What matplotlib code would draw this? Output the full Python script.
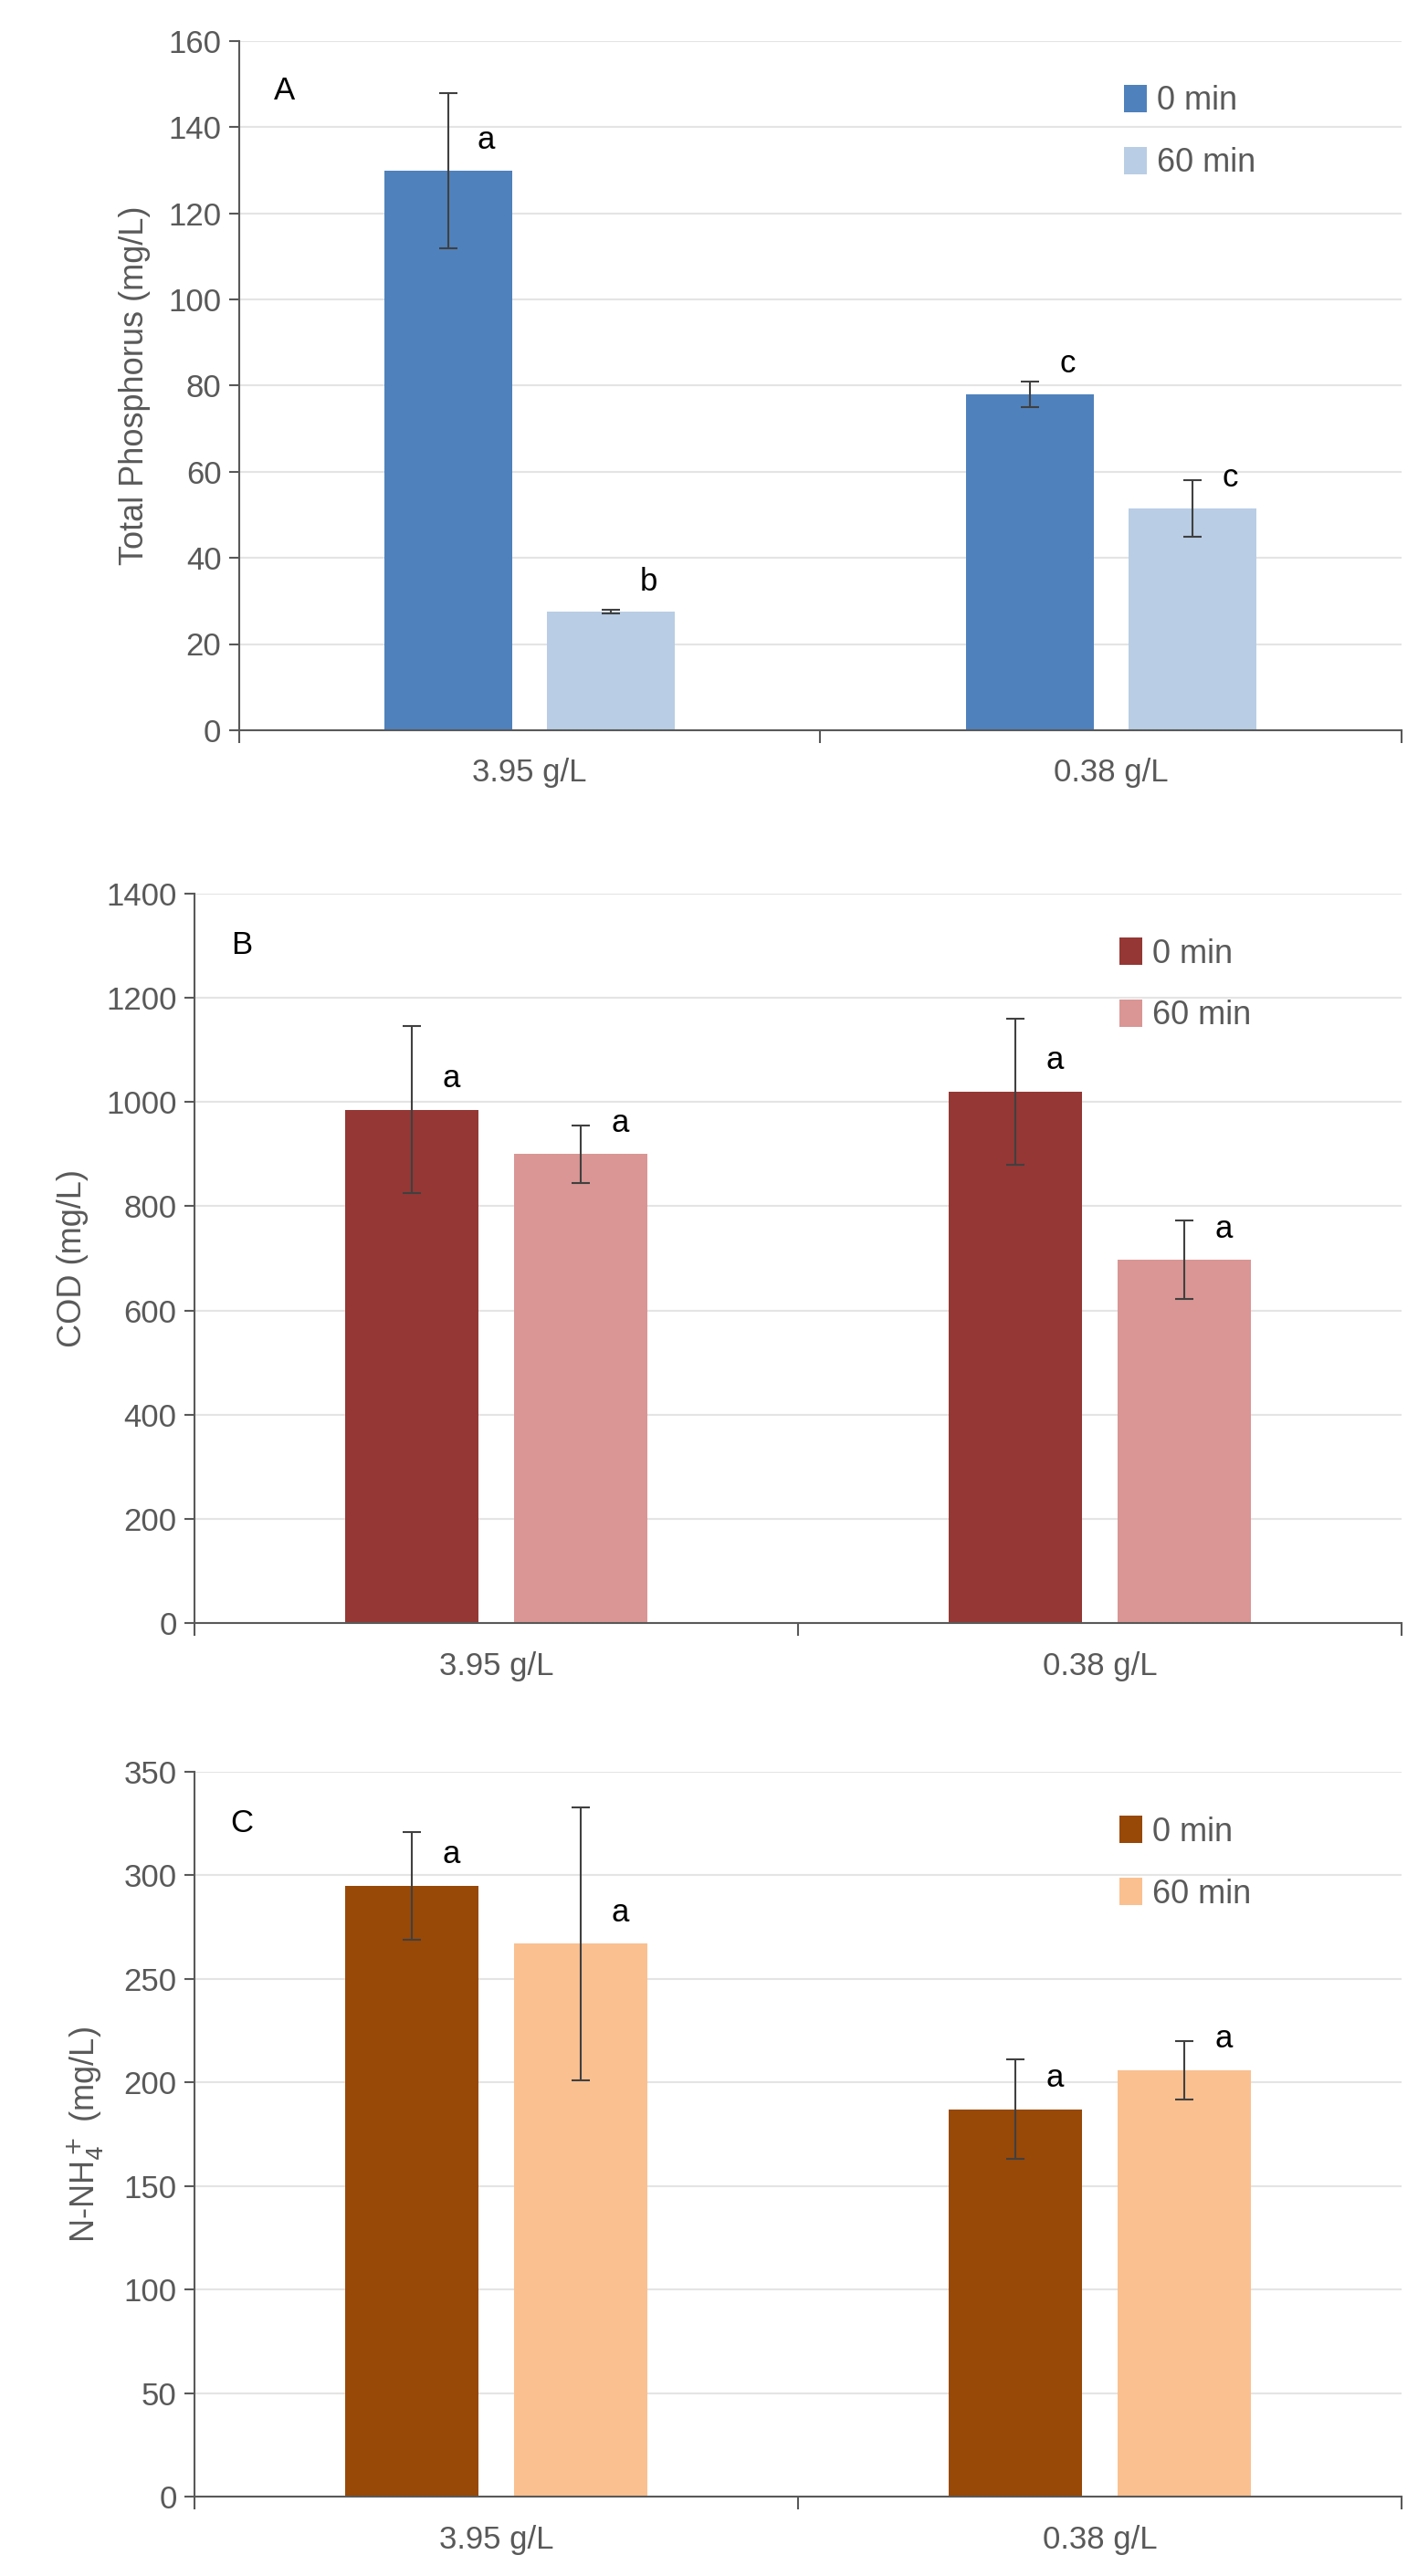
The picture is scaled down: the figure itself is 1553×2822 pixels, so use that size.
import matplotlib
matplotlib.use("Agg")
import matplotlib.pyplot as plt
import numpy as np

plt.rcParams['font.family'] = 'Liberation Sans'

categories = ["3.95 g/L", "0.38 g/L"]
series = ["0 min", "60 min"]

tp_0 = [130, 78]; tp_0_err = [18, 3]
tp_60 = [27.5, 51.5]; tp_60_err = [0.5, 6.5]
tp_letters = [["a", "c"], ["b", "c"]]

cod_0 = [985, 1020]; cod_0_err = [160, 140]
cod_60 = [900, 697]; cod_60_err = [55, 75]
cod_letters = [["a", "a"], ["a", "a"]]

nh_0 = [295, 187]; nh_0_err = [26, 24]
nh_60 = [267, 206]; nh_60_err = [66, 14]
nh_letters = [["a", "a"], ["a", "a"]]

W, H = 860, 1563
fig = plt.figure(figsize=(15.53, 28.22), dpi=100)
gray = "#595959"
fs = 25

panels = [
    dict(rect=[145, 25, 850, 443], v0=tp_0, e0=tp_0_err, v1=tp_60, e1=tp_60_err, let=tp_letters,
         ymax=160, step=20, c=("#4F81BD", "#B9CDE5"), ylabel="Total Phosphorus (mg/L)", tag="A"),
    dict(rect=[118, 542, 850, 985], v0=cod_0, e0=cod_0_err, v1=cod_60, e1=cod_60_err, let=cod_letters,
         ymax=1400, step=200, c=("#953735", "#D99694"), ylabel="COD (mg/L)", tag="B"),
    dict(rect=[118, 1075, 850, 1515], v0=nh_0, e0=nh_0_err, v1=nh_60, e1=nh_60_err, let=nh_letters,
         ymax=350, step=50, c=("#984807", "#FAC090"), ylabel="N-NH$_4^+$ (mg/L)", tag="C"),
]

x = np.arange(len(categories))
off, bw = 0.14, 0.22
for p in panels:
    l, t, r, b = p["rect"]
    ax = fig.add_axes([l / W, 1 - b / H, (r - l) / W, (b - t) / H])
    ax.bar(x - off, p["v0"], bw, color=p["c"][0], label=series[0], zorder=2)
    ax.bar(x + off, p["v1"], bw, color=p["c"][1], label=series[1], zorder=2)
    for xs, v, e in ((x - off, p["v0"], p["e0"]), (x + off, p["v1"], p["e1"])):
        ax.errorbar(xs, v, yerr=e, fmt="none", ecolor="#404040", elinewidth=1.5, capsize=7, capthick=1.5, zorder=3)
    for k, (xs, v) in enumerate(((x - off, p["v0"]), (x + off, p["v1"]))):
        for i in range(len(x)):
            ax.text(xs[i] + 0.065, v[i] + p["ymax"] * 0.022, p["let"][k][i],
                    ha="center", va="bottom", fontsize=fs, color="black", zorder=4)
    ax.set_xlim(-0.5, 1.5)
    ax.set_ylim(0, p["ymax"])
    ax.set_yticks(np.arange(0, p["ymax"] + 1, p["step"]))
    ax.yaxis.grid(True, color="#E4E4E4", linewidth=1.5, zorder=0)
    ax.set_axisbelow(True)
    ax.set_xticks(x)
    ax.set_xticklabels(categories)
    ax.set_xticks([-0.5, 0.5, 1.5], minor=True)
    ax.tick_params(axis="x", which="major", length=0, labelsize=fs, labelcolor=gray, pad=22)
    ax.tick_params(axis="x", which="minor", length=10, width=1.5, color=gray)
    ax.tick_params(axis="y", length=8, width=1.5, color=gray, labelsize=fs, labelcolor=gray, pad=6)
    for s in ("top", "right"):
        ax.spines[s].set_visible(False)
    for s in ("left", "bottom"):
        ax.spines[s].set_color(gray)
        ax.spines[s].set_linewidth(1.5)
    ax.set_ylabel(p["ylabel"], fontsize=fs + 1, color=gray, labelpad=14)
    ax.text(0.03, 0.95, p["tag"], transform=ax.transAxes, fontsize=fs, va="top")
    ax.legend(loc="upper right", bbox_to_anchor=(0.9, 0.98), frameon=False, fontsize=fs + 1,
              labelcolor=gray, handlelength=0.7, handleheight=0.9, handletextpad=0.3, labelspacing=0.9)

fig.savefig("out.png", dpi=100)
